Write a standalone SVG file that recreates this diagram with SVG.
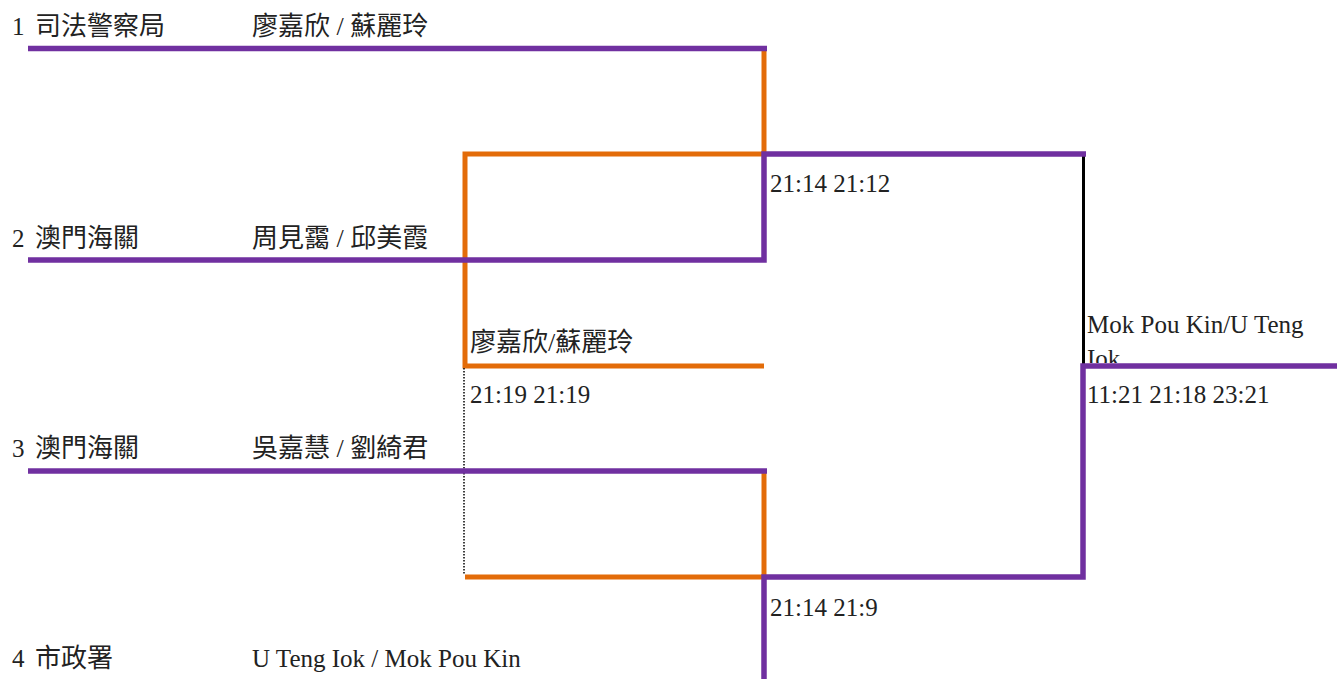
<svg xmlns="http://www.w3.org/2000/svg" width="1337" height="679" viewBox="0 0 1337 679">
<defs>
<style>
text{font-family:"Liberation Serif","Noto Sans CJK TC",serif;font-size:25px;fill:#222}
text.c{font-size:26px}
.p{fill:none;stroke:#7030A0;stroke-width:5.5}
.o{fill:none;stroke:#E36C09;stroke-width:5}
.k{fill:none;stroke:#000;stroke-width:3}
.d{fill:none;stroke:#000;stroke-width:1.5;stroke-dasharray:1.5 1.5}
</style>
<clipPath id="c1"><rect x="1080" y="300" width="257" height="63"/></clipPath>
</defs>
<rect width="1337" height="679" fill="#fff"/>
<g id="team1">
<text x="12" y="35">1</text><text class="c" x="35" y="35">司法警察局</text>
<text class="c" x="252" y="35">廖嘉欣 / 蘇麗玲</text>
</g>
<g id="team2">
<text x="12" y="247">2</text><text class="c" x="35" y="247">澳門海關</text>
<text class="c" x="252" y="247">周見靄 / 邱美霞</text>
</g>
<g id="team3">
<text x="12" y="457">3</text><text class="c" x="35" y="457">澳門海關</text>
<text class="c" x="252" y="457">吳嘉慧 / 劉綺君</text>
</g>
<g id="team4">
<text x="12" y="667">4</text><text class="c" x="35" y="667">市政署</text>
<text x="252" y="667">U Teng Iok / Mok Pou Kin</text>
</g>
<g id="connectors">
<path class="o" d="M764,48 V154 H465 V366 H764"/>
<path class="o" d="M764,471 V577 H465"/>
<path class="d" d="M464,368 V575"/>
<path class="k" d="M1083.5,154 V366"/>
<path class="p" d="M28,48.5 H767"/>
<path class="p" d="M28,260 H764 V154 H1086"/>
<path class="p" d="M28,471 H767"/>
<path class="p" d="M1337,366 H1083 V577 H764 V679"/>
</g>
<g id="match-sf1">
<text x="770" y="192">21:14 21:12</text>
</g>
<g id="match-sf2">
<text x="770" y="616">21:14 21:9</text>
</g>
<g id="match-r1">
<text class="c" x="470" y="351">廖嘉欣/蘇麗玲</text>
<text x="470" y="403">21:19 21:19</text>
</g>
<g id="match-final">
<g clip-path="url(#c1)">
<text x="1087" y="333">Mok Pou Kin/U Teng</text>
<text x="1087" y="367">Iok</text>
</g>
<text x="1087" y="403">11:21 21:18 23:21</text>
</g>
</svg>
